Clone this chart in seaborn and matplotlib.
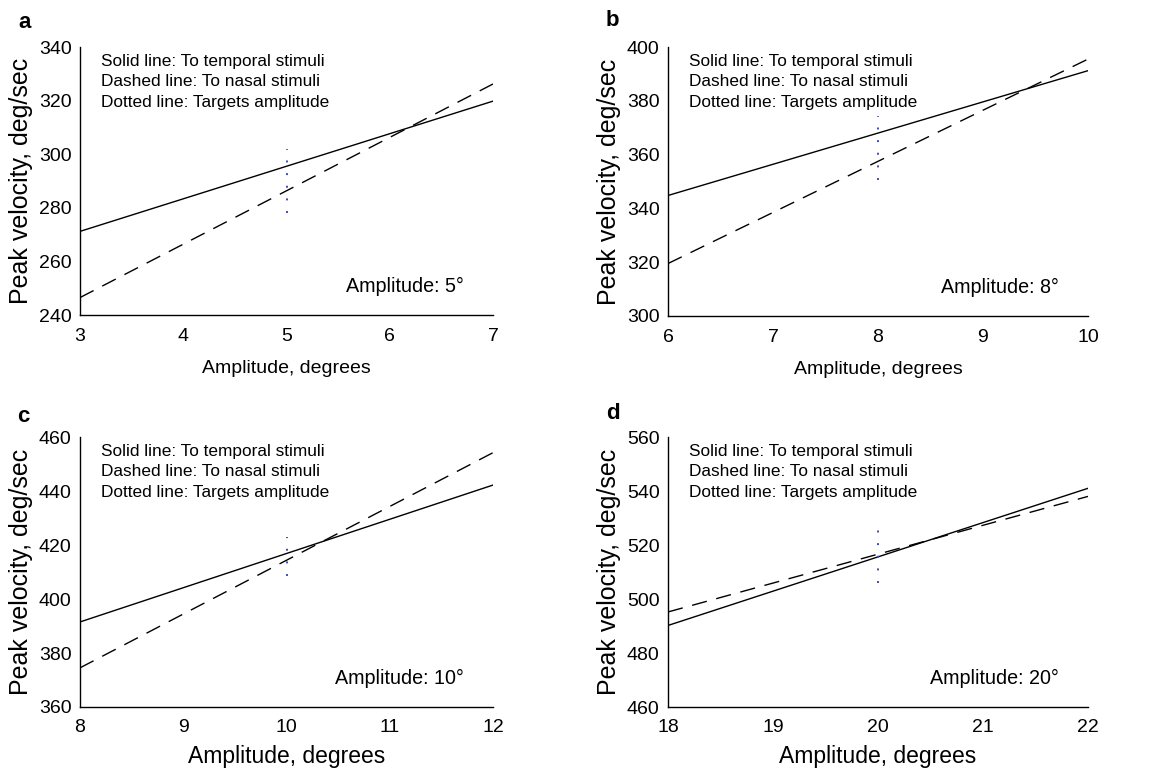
import matplotlib
matplotlib.use("Agg")
import matplotlib.pyplot as plt
import seaborn as sns
import pandas as pd

sns.set_theme(style="white")
plt.rcParams['font.family'] = ['Liberation Sans', 'DejaVu Sans']

panel_letters = ["a", "b", "c", "d"]
target_amplitudes = [5, 8, 10, 20]
x_ranges = [(3, 7), (6, 10), (8, 12), (18, 22)]
y_ranges = [(240, 340), (300, 400), (360, 460), (460, 560)]
# fitted line endpoints (value at x_min, value at x_max)
temporal_ends = [(271.2, 319.8), (344.8, 391.2), (391.5, 442.2), (490.2, 541.0)]
nasal_ends = [(246.5, 326.2), (319.5, 395.5), (374.5, 454.2), (495.2, 538.0)]
# dotted target-amplitude marker (y start, y end)
target_spans = [(278, 302), (350.5, 374.5), (408.5, 423), (506, 526)]

legend_lines = ["Solid line: To temporal stimuli",
                "Dashed line: To nasal stimuli",
                "Dotted line: Targets amplitude"]

fig = plt.figure(figsize=(11.5, 7.7), dpi=100)
W, H = 1150, 770
boxes = [(80, 47, 493, 315), (668, 47, 1088, 316),
         (80, 437, 493, 707), (668, 437, 1088, 707)]
letter_pos = [(18, 22), (606, 20), (17, 417), (606, 414)]

for i in range(4):
    l, t, r, b = boxes[i]
    ax = fig.add_axes([l / W, 1 - b / H, (r - l) / W, (b - t) / H])
    x0, x1 = x_ranges[i]
    df_t = pd.DataFrame({"x": [x0, x1], "y": list(temporal_ends[i])})
    df_n = pd.DataFrame({"x": [x0, x1], "y": list(nasal_ends[i])})
    df_d = pd.DataFrame({"x": [target_amplitudes[i]] * 2, "y": list(target_spans[i])})
    sns.lineplot(data=df_t, x="x", y="y", ax=ax, color="black", lw=1.0,
                 estimator=None)
    sns.lineplot(data=df_n, x="x", y="y", ax=ax, color="black", lw=1.0,
                 estimator=None, linestyle=(0, (11, 7)))
    sns.lineplot(data=df_d, x="x", y="y", ax=ax, color="#3a4cb0", lw=1.4,
                 estimator=None, sort=False, linestyle=(0, (1, 5.5)))
    ax.set_xlim(x0, x1)
    ax.set_ylim(*y_ranges[i])
    ax.set_xticks(list(range(x0, x1 + 1)))
    ax.set_yticks(list(range(y_ranges[i][0], y_ranges[i][1] + 1, 20)))
    for s in ["top", "right"]:
        ax.spines[s].set_visible(False)
    for s in ["left", "bottom"]:
        ax.spines[s].set_color("black")
        ax.spines[s].set_linewidth(1.0)
    ax.tick_params(axis="x", direction="in", length=6, width=0.8,
                   colors="black", labelsize=14, pad=9)
    ax.tick_params(axis="y", direction="in", length=0, colors="black",
                   labelsize=14, pad=6)
    if i < 2:
        ax.set_xlabel("Amplitude, degrees", fontsize=14, color="black", labelpad=11)
    else:
        ax.set_xlabel("Amplitude, degrees", fontsize=16.5, color="black", labelpad=6)
    ax.set_ylabel("Peak velocity, deg/sec", fontsize=18, color="black", labelpad=4)
    ax.text(0.05, 0.975, "\n".join(legend_lines), transform=ax.transAxes,
            fontsize=12.4, va="top", ha="left", linespacing=1.45, color="black")
    ax.text(0.93, 0.105, f"Amplitude: {target_amplitudes[i]}°",
            transform=ax.transAxes, fontsize=14.2, ha="right", va="center",
            color="black")
    lx, ly = letter_pos[i]
    fig.text(lx / W, 1 - ly / H, panel_letters[i], fontsize=16,
             fontweight="bold", ha="left", va="center", color="black")
    ax.set_facecolor("white")

fig.savefig("out.png", dpi=100, facecolor="white")
